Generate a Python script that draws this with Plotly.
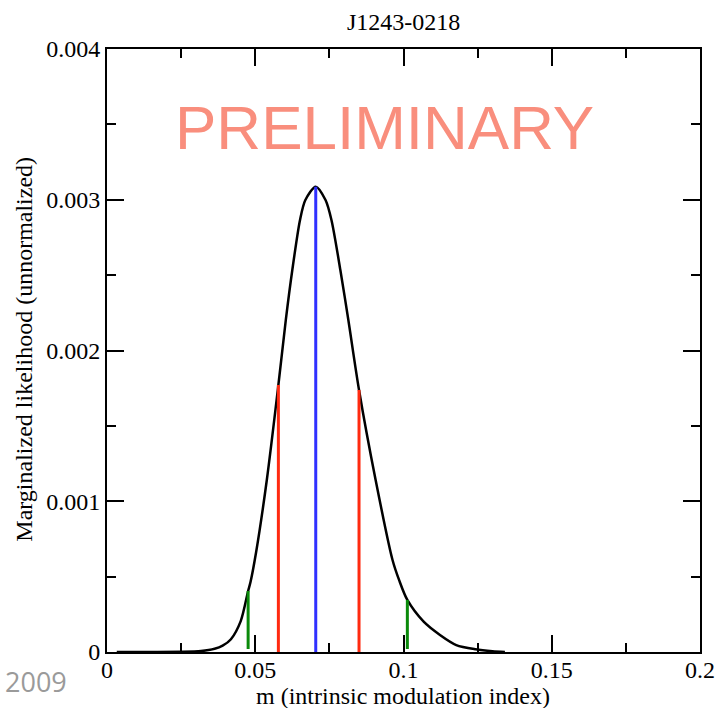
import plotly.graph_objects as go

# Curve: m (intrinsic modulation index) vs marginalized likelihood
m_vals = [0.0033, 0.0150, 0.0250, 0.0317, 0.0363, 0.0390, 0.0418, 0.0451, 0.0476, 0.0484, 0.0503,
          0.0539, 0.0578, 0.0603, 0.0625, 0.0651, 0.0669, 0.0704, 0.0737, 0.0757,
          0.0787, 0.0814, 0.0850, 0.0906, 0.0963, 0.0985, 0.1013, 0.1068, 0.1123,
          0.1178, 0.1243, 0.1300, 0.1342]
like_vals = [0.0, 0.0, 0.000001, 0.000006, 0.000021, 0.000042, 0.000085, 0.000205, 0.000405, 0.000464, 0.000663,
             0.001141, 0.001771, 0.002202, 0.002534, 0.002866, 0.002998, 0.003087, 0.002998, 0.002866,
             0.002534, 0.002202, 0.001738, 0.001141, 0.000610, 0.000478, 0.000345, 0.000201, 0.000113,
             0.000046, 0.000018, 0.000005, 0.0]

# Vertical markers: mode (blue), 1-sigma bounds (red), 2-sigma bounds (green)
mode_m = [0.0704]
mode_top = [0.003087]
sig1_m = [0.0578, 0.0850]
sig1_top = [0.001771, 0.001738]
sig2_m = [0.0476, 0.1013]
sig2_top = [0.000405, 0.000345]
sig2_bottom = [0.00002, 0.00002]

x_ticks = [0, 0.05, 0.1, 0.15, 0.2]
x_ticklabels = ["0", "0.05", "0.1", "0.15", "0.2"]
y_ticks = [0, 0.001, 0.002, 0.003, 0.004]
y_ticklabels = ["0", "0.001", "0.002", "0.003", "0.004"]

W, H = 727, 708
L, R, T, B = 107, 15, 49, 56

fig = go.Figure()
fig.add_trace(go.Scatter(x=m_vals, y=like_vals, mode="lines",
                         line=dict(color="black", width=2.5, shape="spline", smoothing=0.8),
                         showlegend=False, hoverinfo="skip"))

for xm, top, bot in zip(sig2_m, sig2_top, sig2_bottom):
    fig.add_trace(go.Scatter(x=[xm, xm], y=[bot, top], mode="lines",
                             line=dict(color="#0a8a0a", width=3), showlegend=False))
for xm, top in zip(sig1_m, sig1_top):
    fig.add_trace(go.Scatter(x=[xm, xm], y=[0, top], mode="lines",
                             line=dict(color="#ff2a10", width=3), showlegend=False))
for xm, top in zip(mode_m, mode_top):
    fig.add_trace(go.Scatter(x=[xm, xm], y=[0, top], mode="lines",
                             line=dict(color="#3030ff", width=3), showlegend=False))

serif = "Liberation Serif, Times New Roman, serif"
axis_common = dict(showline=True, linecolor="black", linewidth=2, mirror="allticks",
                   ticks="inside", ticklen=17, tickwidth=2, tickcolor="black",
                   showgrid=False, zeroline=False,
                   tickfont=dict(family=serif, size=24, color="black"))

fig.update_xaxes(range=[0, 0.2], tickvals=x_ticks, ticktext=x_ticklabels,
                 ticklabelstandoff=-5,
                 minor=dict(ticks="inside", ticklen=9, tickwidth=2, tickcolor="black",
                            dtick=0.025, tick0=0, showgrid=False),
                 **axis_common)
fig.update_yaxes(range=[0, 0.004], tickvals=y_ticks, ticktext=y_ticklabels,
                 minor=dict(ticks="inside", ticklen=9, tickwidth=2, tickcolor="black",
                            dtick=0.0005, tick0=0, showgrid=False),
                 **axis_common)

pw, ph = W - L - R, H - T - B
def px(xp):
    return (xp - L) / pw
def py(yp):
    return (H - B - yp) / ph

fig.update_layout(
    width=W, height=H,
    margin=dict(l=L, r=R, t=T, b=B),
    paper_bgcolor="white", plot_bgcolor="white",
    annotations=[
        dict(text="J1243-0218", xref="paper", yref="paper", x=px(410), y=py(22),
             showarrow=False, xanchor="center", yanchor="middle",
             font=dict(family=serif, size=24, color="black")),
        dict(text="m (intrinsic modulation index)", xref="paper", yref="paper",
             x=px(409), y=py(696), showarrow=False, xanchor="center", yanchor="middle",
             font=dict(family=serif, size=24, color="black")),
        dict(text="Marginalized likelihood (unnormalized)", xref="paper", yref="paper",
             x=px(22), y=py(349), showarrow=False, textangle=-90,
             xanchor="center", yanchor="middle",
             font=dict(family=serif, size=24, color="black")),
        dict(text="PRELIMINARY", xref="paper", yref="paper", x=px(390), y=py(128),
             showarrow=False, xanchor="center", yanchor="middle",
             font=dict(family="Liberation Sans, Arial, sans-serif", size=62, color="#f98e7d")),
        dict(text="2009", xref="paper", yref="paper", x=px(1), y=py(681),
             showarrow=False, xanchor="left", yanchor="middle",
             font=dict(family="Open Sans, sans-serif", size=27, color="#9a9a9a")),
    ],
)

fig.write_html("out.html")
